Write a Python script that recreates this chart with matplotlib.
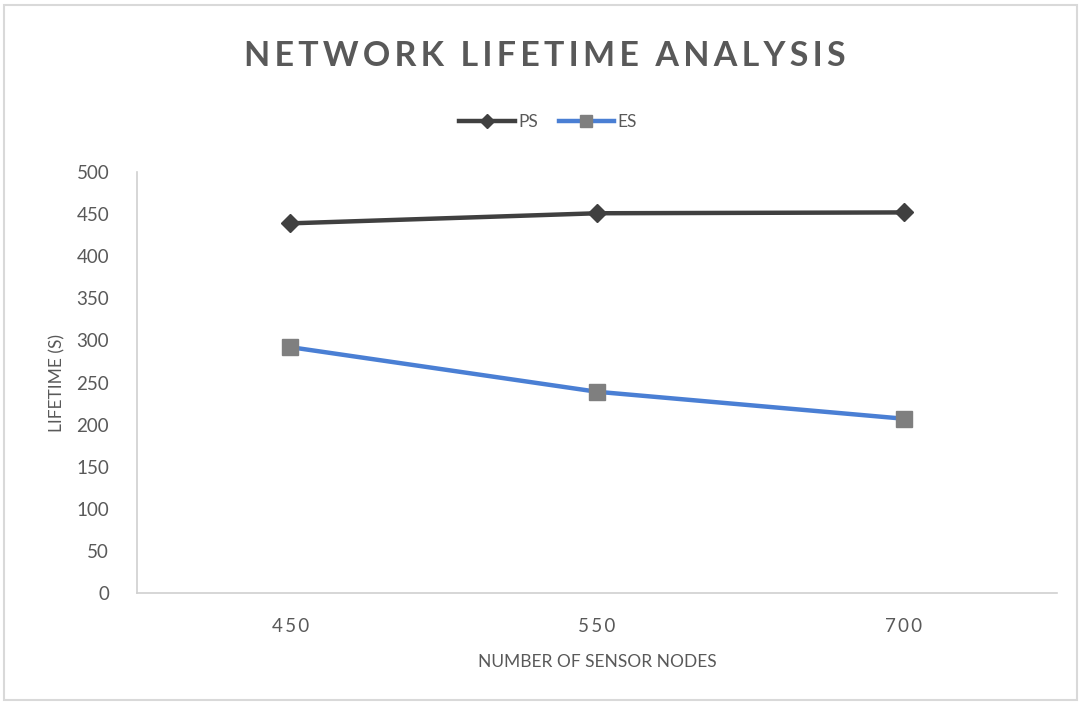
import matplotlib
matplotlib.use("Agg")
import matplotlib.pyplot as plt
from matplotlib.patches import Rectangle

# Data
categories = ["450", "550", "700"]
ps_values = [439, 451, 452]
es_values = [292, 239, 207]
y_ticks = [0, 50, 100, 150, 200, 250, 300, 350, 400, 450, 500]

text_grey = "#595959"
axis_grey = "#d0d0d0"
HAIR = "\u200a"

plt.rcParams['font.family'] = ['Lato', 'DejaVu Sans']


def spaced(s, sep=HAIR):
    return sep.join(s)


fig = plt.figure(figsize=(10.8, 7.02), dpi=100)
fig.patch.set_facecolor("white")

# Outer chart frame
fig.patches.append(Rectangle((0.004, 0.003), 0.993, 0.99, transform=fig.transFigure,
                             fill=False, edgecolor="#d9d9d9", linewidth=1.5))

ax = fig.add_axes([137 / 1080, 1 - 593 / 702, (1057 - 137) / 1080, (593 - 172) / 702])

x = list(range(len(categories)))
ax.plot(x, ps_values, color="#404040", linewidth=3.2, marker="D", markersize=9,
        markerfacecolor="#404040", markeredgecolor="#404040", label="PS")
ax.plot(x, es_values, color="#4a7fd4", linewidth=3.2, marker="s", markersize=11,
        markerfacecolor="#7f7f7f", markeredgecolor="#7f7f7f", label="ES")

ax.set_xlim(-0.5, len(categories) - 0.5)
ax.set_ylim(0, 500)
ax.set_yticks(y_ticks)
ax.set_yticklabels([str(v) for v in y_ticks])
ax.set_xticks(x)
ax.set_xticklabels([spaced(c, HAIR * 2) for c in categories])

for side in ["top", "right"]:
    ax.spines[side].set_visible(False)
for side in ["left", "bottom"]:
    ax.spines[side].set_color(axis_grey)
    ax.spines[side].set_linewidth(1.2)

ax.tick_params(axis="both", length=0, colors=text_grey, labelsize=13.5)
ax.tick_params(axis="y", pad=20)
ax.tick_params(axis="x", pad=18)

ax.set_ylabel("LIFETIME (S)", color=text_grey, fontsize=12.5, labelpad=8)
ax.set_xlabel("NUMBER OF SENSOR NODES", color=text_grey, fontsize=12.5, labelpad=14)

title = "  ".join(spaced(w, HAIR * 2) for w in ["NETWORK", "LIFETIME", "ANALYSIS"])
fig.text(545 / 1080, 1 - 56 / 702, title,
         ha="center", va="center", fontsize=24.5, fontweight="bold", color=text_grey)

leg = ax.legend(loc="center", bbox_to_anchor=(548 / 1080, 1 - 122 / 702),
                bbox_transform=fig.transFigure, ncol=2, frameon=False,
                fontsize=12.5, handlelength=3.2, handletextpad=0.2, columnspacing=1.2,
                markerscale=0.8)
for t in leg.get_texts():
    t.set_color(text_grey)

fig.savefig("out.png", dpi=100, facecolor="white")
